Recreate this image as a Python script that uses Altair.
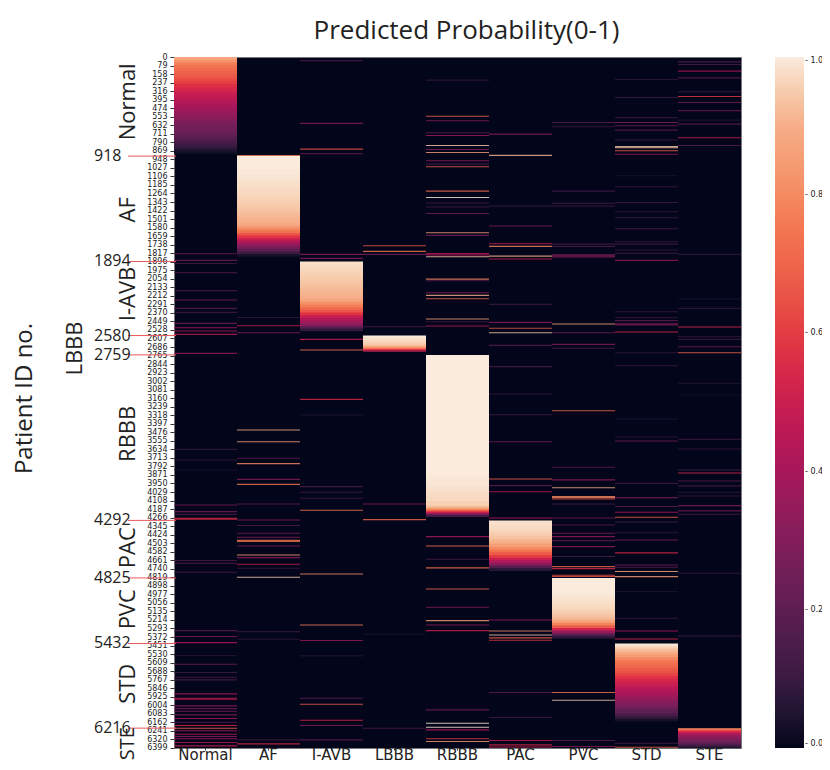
import altair as alt
import pandas as pd

COLUMNS = ["Normal", "AF", "I-AVB", "LBBB", "RBBB", "PAC", "PVC", "STD", "STE"]
ROW_TICKS = [0, 79, 158, 237, 316, 395, 474, 553, 632, 711, 790, 869, 948, 1027, 1106, 1185, 1264, 1343,
             1422, 1501, 1580, 1659, 1738, 1817, 1896, 1975, 2054, 2133, 2212, 2291, 2370, 2449, 2528,
             2607, 2686, 2765, 2844, 2923, 3002, 3081, 3160, 3239, 3318, 3397, 3476, 3555, 3634, 3713,
             3792, 3871, 3950, 4029, 4108, 4187, 4266, 4345, 4424, 4503, 4582, 4661, 4740, 4819, 4898,
             4977, 5056, 5135, 5214, 5293, 5372, 5451, 5530, 5609, 5688, 5767, 5846, 5925, 6004, 6083,
             6162, 6241, 6320, 6399]
COLORBAR_TICKS = [0.0, 0.2, 0.4, 0.6, 0.8, 1.0]
ROCKET_STOPS = [0.0, 0.083, 0.25, 0.417, 0.583, 0.75, 0.917, 1.0]
ROCKET_HEX = ["#03051a", "#35193e", "#701f57", "#ad1759", "#e13342", "#f37651", "#f6b48f", "#faebdd"]

# sorted probability bands: first row, last row, values read down the band
normal_band = (0, 900, [0.88, 0.82, 0.77, 0.74, 0.72, 0.70, 0.68, 0.66, 0.63, 0.60, 0.57, 0.55, 0.52, 0.50, 0.48, 0.46,
                        0.44, 0.42, 0.40, 0.38, 0.36, 0.34, 0.32, 0.30, 0.28, 0.26, 0.25, 0.24, 0.22, 0.20, 0.17, 0.14,
                        0.11, 0.08, 0.05, 0.02])
af_band = (918, 1850, [1.0, 1.0, 1.0, 1.0, 1.0, 0.995, 0.995, 0.99, 0.99, 0.985, 0.98, 0.98, 0.975, 0.97, 0.97, 0.965,
                       0.96, 0.955, 0.95, 0.945, 0.94, 0.93, 0.925, 0.915, 0.905, 0.89, 0.86, 0.80, 0.74, 0.66, 0.58, 0.50,
                       0.41, 0.34, 0.27, 0.20, 0.11, 0.03])
iavb_band = (1894, 2540, [0.98, 0.975, 0.97, 0.965, 0.96, 0.955, 0.95, 0.945, 0.94, 0.93, 0.925, 0.92, 0.91, 0.90, 0.87, 0.82,
                          0.77, 0.72, 0.66, 0.58, 0.50, 0.44, 0.38, 0.32, 0.20, 0.08])
lbbb_band = (2580, 2726, [1.0, 0.99, 0.98, 0.975, 0.97, 0.96, 0.95, 0.93, 0.88, 0.78, 0.60, 0.40])
rbbb_band_a = (2759, 4150, [1.0] * 32 + [0.995, 0.99, 0.99, 0.985, 0.98, 0.975, 0.97, 0.96])
rbbb_band_b = (4150, 4255, [0.95, 0.93, 0.90, 0.86, 0.80, 0.72, 0.62, 0.52, 0.42, 0.30, 0.18, 0.08])
pac_band = (4292, 4760, [0.985, 0.98, 0.975, 0.97, 0.96, 0.95, 0.94, 0.92, 0.89, 0.85, 0.80, 0.74, 0.67, 0.60, 0.50, 0.42,
                         0.32, 0.18, 0.06])
pvc_band = (4825, 5385, [1.0, 1.0, 1.0, 1.0, 1.0, 1.0, 0.995, 0.99, 0.985, 0.98, 0.975, 0.97, 0.96, 0.95, 0.94, 0.92,
                         0.87, 0.79, 0.68, 0.52, 0.36, 0.20, 0.07])
std_band = (5432, 6155, [0.99, 0.96, 0.93, 0.89, 0.85, 0.80, 0.76, 0.73, 0.71, 0.68, 0.65, 0.62, 0.58, 0.54, 0.51, 0.49,
                         0.46, 0.43, 0.41, 0.38, 0.35, 0.32, 0.29, 0.26, 0.23, 0.19, 0.14, 0.08, 0.03])
ste_band = (6216, 6400, [0.80, 0.68, 0.58, 0.50, 0.44, 0.38, 0.34, 0.32, 0.30, 0.28, 0.26, 0.23, 0.19, 0.15, 0.10, 0.05])

# isolated records in each column: (row, probability)
normal_rows = [(1817, .25), (1879, .25), (1907, .12), (1993, .2), (2160, .2), (2246, .3), (2323, .2), (2360, .12),
               (2462, .25), (2502, .4), (2533, .4), (2564, .45), (2740, .35), (3629, .08), (3727, .1), (3820, .05),
               (4144, .25), (4206, .25), (4230, .2), (4268, .55), (4276, .55), (4659, .15), (4684, .2), (4767, .15),
               (5308, .2), (5363, .3), (5419, .45), (5539, .06), (5619, .25), (5696, .12), (5740, .15), (5764, .15),
               (5894, .4), (5934, .5), (5944, .5), (6005, .35), (6030, .25), (6054, .3), (6088, .3), (6122, .4),
               (6156, .2), (6187, .55), (6212, .7), (6236, .4), (6267, .45), (6289, .35), (6310, .4), (6344, .45),
               (6375, .5)]
af_rows = [(2407, .08), (2484, .5), (2549, .3), (3450, .9), (3558, .85), (3712, .2), (3761, .8), (3907, .3),
           (3953, .75), (4135, .2), (4283, .3), (4335, .15), (4406, .25), (4443, .3), (4472, .75), (4482, .75),
           (4524, .3), (4607, .85), (4632, .35), (4693, .5), (4730, .1), (4814, .95), (5317, .08), (5388, .08),
           (6320, .1), (6357, .55), (908, .8)]
iavb_rows = [(30, .2), (610, .3), (848, .65), (891, .25), (1823, .35), (1860, .3), (2610, .5), (2709, .75),
             (3166, .55), (3311, .06), (3974, .15), (4027, .12), (4082, .12), (4193, .75), (4783, .8), (5255, .78),
             (5400, .35), (5542, .06), (5934, .2), (5990, .68), (6138, .55), (6187, .3), (6320, .2)]
lbbb_rows = [(1743, .65), (1795, .75), (1823, .25), (2493, .15), (4135, .3), (4280, .7), (5341, .05), (6212, .15)]
rbbb_rows = [(209, .08), (543, .7), (586, .3), (697, .2), (722, .4), (814, .95), (851, .3), (879, .85), (956, .35),
             (987, .15), (1012, .7), (1237, .72), (1296, 1.0), (1348, .12), (1385, .15), (1444, .25), (1623, .85),
             (1647, .25), (1815, .45), (1828, .45), (1845, .95), (2052, .8), (2067, .2), (2178, .3), (2203, .9),
             (2234, .7), (2422, .85), (2447, .1), (2487, .45), (4437, .4), (4524, .75), (4647, .15), (4727, .75),
             (4922, .72), (5091, .3), (5215, .85), (5255, .35), (5308, .5), (6042, .25), (6166, 1.0), (6203, 1.0),
             (6227, .45), (6310, .6), (6335, .85)]
pac_rows = [(709, .3), (906, .92), (1376, .08), (1561, .3), (1725, .5), (1749, .8), (1839, .9), (1866, .5),
            (2286, .1), (2453, .3), (2508, .65), (2549, .95), (2666, .2), (2863, .15), (3116, .08), (3308, .12),
            (3558, .25), (3903, .7), (3965, .2), (4021, .45), (4265, .45), (5209, .35), (5311, .8), (5348, .95),
            (5375, .7), (5397, .6), (5881, .2), (6113, .12), (6326, .5), (6366, .55), (6385, .5)]
pvc_rows = [(601, .2), (641, .12), (1237, .12), (1351, .1), (1376, .1), (1728, .12), (1749, .15), (1826, .3),
            (1836, .3), (1846, .3), (2468, .88), (2549, .25), (2657, .3), (2694, .1), (3271, .7), (3795, .2),
            (3912, .35), (3984, .9), (4065, .8), (4076, .8), (4088, .65), (4135, .15), (4265, .25), (4329, .2),
            (4406, .3), (4437, .35), (4474, .2), (4530, .35), (4622, .15), (4715, .7), (4734, .55), (4795, .65),
            (4806, .65), (5881, .75), (5952, .95), (6326, .2), (6381, .3)]
std_rows = [(203, .08), (370, .12), (558, .15), (601, .3), (632, .25), (672, .2), (765, .08), (825, .95), (835, .95),
            (864, .7), (895, .35), (1095, .05), (1197, .1), (1342, .12), (1428, .1), (1484, .12), (1586, .15),
            (1706, .12), (1728, .12), (1783, .1), (1814, .1), (1879, .35), (2354, .1), (2410, .1), (2437, .2),
            (2465, .3), (2476, .3), (2542, .55), (2734, .08), (2854, .1), (3348, .06), (3515, .08), (3552, .25),
            (3944, .12), (4076, .25), (4159, .2), (4212, .4), (4258, .7), (4302, .15), (4400, .06), (4468, .3),
            (4588, .55), (4700, .25), (4721, .2), (4761, .9), (4808, .85), (4946, .05), (5193, .1), (5311, .4),
            (5385, .55), (6351, .15), (6388, .7)]
ste_rows = [(40, .2), (64, .15), (126, .4), (188, .2), (317, .12), (361, .6), (416, .25), (493, .3), (580, .06),
            (617, .2), (743, .5), (814, .2), (1823, .08), (2237, .05), (2323, .08), (2496, .55), (2586, .1),
            (2610, .1), (2678, .25), (2734, .7), (3018, .05), (3126, .03), (3536, .15), (3626, .1), (3820, .15),
            (3848, .55), (3922, .2), (3968, .2), (4027, .08), (4061, .1), (4150, .3), (4199, .25), (4230, .15),
            (4777, .08), (5357, .12)]

BOUNDARY_ROWS = [918, 1894, 2580, 2759, 4292, 4825, 5432, 6216]
CLASS_NAMES = ["Normal", "AF", "I-AVB", "RBBB", "PAC", "PVC", "STD"]
CLASS_CENTERS = [415, 1415, 2195, 3490, 4545, 5115, 5805]

bands = [("Normal", normal_band), ("AF", af_band), ("I-AVB", iavb_band), ("LBBB", lbbb_band),
         ("RBBB", rbbb_band_a), ("RBBB", rbbb_band_b), ("PAC", pac_band), ("PVC", pvc_band),
         ("STD", std_band), ("STE", ste_band)]
rows = [("Normal", normal_rows), ("AF", af_rows), ("I-AVB", iavb_rows), ("LBBB", lbbb_rows), ("RBBB", rbbb_rows),
        ("PAC", pac_rows), ("PVC", pvc_rows), ("STD", std_rows), ("STE", ste_rows)]

records = []
for col, (start, end, values) in bands:
    step = (end - start) / len(values)
    for i, v in enumerate(values):
        # each step runs under the next one so no seam shows between them
        overlap = 14 if i < len(values) - 1 else 0
        records.append({"col": col, "r0": start + i * step, "r1": start + (i + 1) * step + overlap, "p": v, "a": 1.0})
for col, pts in rows:
    for r, v in pts:
        records.append({"col": col, "r0": r, "r1": r + 10, "p": v, "a": 0.82})
heat_df = pd.DataFrame(records)

Y_SCALE = alt.Scale(domain=[0, 6400], reverse=True, nice=False, zero=False)
FONT = "Open Sans"
INK = "#222222"
Y_AXIS = alt.Axis(title="Patient ID no.", titleFont=FONT, titleFontSize=24, titleFontWeight="normal",
                  titleColor=INK, titleX=-150, titleY=341, titleAngle=270, titleAlign="center",
                  titleBaseline="middle", values=ROW_TICKS, format="d", labelFontSize=8, labelFont="DejaVu Sans",
                  labelColor=INK, labelOverlap=False, labelPadding=3, tickSize=4, tickColor="#333333",
                  domain=False, grid=False, labelBound=False, labelFlush=False)

heat = alt.Chart(heat_df).mark_rect().encode(
    x=alt.X("col:N", sort=COLUMNS, scale=alt.Scale(domain=COLUMNS, paddingInner=0, paddingOuter=0),
            axis=alt.Axis(title=None, labelAngle=0, labelFontSize=15, labelFont="DejaVu Sans", labelColor=INK,
                          tickSize=2, tickColor="#333333", domain=False, labelPadding=-3, grid=False)),
    y=alt.Y("r0:Q", scale=Y_SCALE, axis=Y_AXIS),
    y2="r1:Q",
    opacity=alt.Opacity("a:Q", scale=None, legend=None),
    color=alt.Color("p:Q", scale=alt.Scale(domain=ROCKET_STOPS, range=ROCKET_HEX, clamp=True),
                    legend=alt.Legend(orient="none", legendX=601, legendY=0, title=None, gradientLength=691,
                                      gradientThickness=29, values=COLORBAR_TICKS, labelFontSize=8,
                                      labelFont="DejaVu Sans", labelColor=INK, labelOffset=1, labelBaseline="middle",
                                      labelExpr="'- ' + format(datum.value, '.1f')", labelOverlap=False,
                                      gradientStrokeWidth=0)),
)

rule_df = pd.DataFrame({"row": BOUNDARY_ROWS, "label": [str(b) for b in BOUNDARY_ROWS]})
rules = alt.Chart(rule_df).mark_rule(color="#e8595c", strokeWidth=1).encode(
    y=alt.Y("row:Q", scale=Y_SCALE, axis=Y_AXIS), x=alt.value(-46), x2=alt.value(2))
numbers = alt.Chart(rule_df).mark_text(font=FONT, fontSize=16, align="left", baseline="middle", color=INK).encode(
    y=alt.Y("row:Q", scale=Y_SCALE, axis=Y_AXIS), x=alt.value(-80), text="label:N")
class_df = pd.DataFrame({"name": CLASS_NAMES, "row": CLASS_CENTERS})
classes = alt.Chart(class_df).mark_text(font=FONT, fontSize=22, angle=270, align="center", baseline="middle",
                                        color=INK).encode(
    y=alt.Y("row:Q", scale=Y_SCALE, axis=Y_AXIS), x=alt.value(-46), text="name:N")
ste_label = alt.Chart(pd.DataFrame({"name": ["STE"], "row": [6360]})).mark_text(
    font=FONT, fontSize=20, angle=270, align="center", baseline="middle", color=INK).encode(
    y=alt.Y("row:Q", scale=Y_SCALE, axis=Y_AXIS), x=alt.value(-46), text="name:N")
lbbb_side = alt.Chart(pd.DataFrame({"name": ["LBBB"], "row": [2700]})).mark_text(
    font=FONT, fontSize=22, angle=270, align="center", baseline="middle", color=INK).encode(
    y=alt.Y("row:Q", scale=Y_SCALE, axis=Y_AXIS), x=alt.value(-99), text="name:N")

chart = alt.layer(heat, rules, numbers, classes, ste_label, lbbb_side).properties(
    width=567, height=691,
    title=alt.TitleParams("Predicted Probability(0-1)", font=FONT, fontSize=26, fontWeight="normal", color=INK,
                          anchor="middle", dx=9, offset=9),
    autosize=alt.AutoSizeParams(type="none"),
    padding={"left": 166, "top": 49, "right": 81, "bottom": 14},
).configure_view(fill="#03051a", stroke="#777777", strokeWidth=1)

chart.save("out.html", embed_options={"renderer": "svg", "actions": False})
